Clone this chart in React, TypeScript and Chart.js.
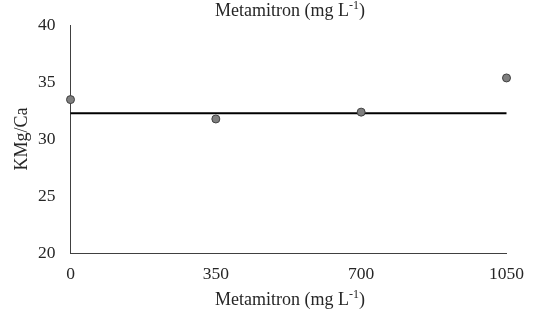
import React, { useEffect, useRef } from "react";
import { Chart, registerables } from "chart.js";

Chart.register(...registerables);

const doses = [0, 350, 700, 1050];
const kmgca = [33.5, 31.8, 32.4, 35.4];
const fitX = [0, 1050];
const fitY = [32.3, 32.3];
const xTicks = [0, 350, 700, 1050];
const yTicks = [20, 25, 30, 35, 40];
const titleMain = "Metamitron (mg L";
const titleSup = "-1";
const titleEnd = ")";
const yTitle = "KMg/Ca";

const FONT = "'Liberation Serif', 'Times New Roman', serif";
const TITLE_SIZE = 18;
const TICK_SIZE = 17.5;

function drawSupTitle(ctx: CanvasRenderingContext2D, cx: number, baseline: number) {
  ctx.save();
  ctx.fillStyle = "#262626";
  ctx.textBaseline = "alphabetic";
  ctx.textAlign = "left";
  ctx.font = `${TITLE_SIZE}px ${FONT}`;
  const w1 = ctx.measureText(titleMain).width;
  const w3 = ctx.measureText(titleEnd).width;
  ctx.font = `${Math.round(TITLE_SIZE * 0.66)}px ${FONT}`;
  const w2 = ctx.measureText(titleSup).width;
  const total = w1 + w2 + w3;
  let x = cx - total / 2;
  ctx.font = `${TITLE_SIZE}px ${FONT}`;
  ctx.fillText(titleMain, x, baseline);
  x += w1;
  ctx.font = `${Math.round(TITLE_SIZE * 0.66)}px ${FONT}`;
  ctx.fillText(titleSup, x, baseline - 7);
  x += w2;
  ctx.font = `${TITLE_SIZE}px ${FONT}`;
  ctx.fillText(titleEnd, x, baseline);
  ctx.restore();
}

const titlesPlugin = {
  id: "titlesPlugin",
  afterDraw(chart: any) {
    const ctx = chart.ctx as CanvasRenderingContext2D;
    const area = chart.chartArea;
    const cx = 290;
    drawSupTitle(ctx, cx, 16);
    drawSupTitle(ctx, cx, 305);
    ctx.save();
    ctx.fillStyle = "#262626";
    ctx.font = `${TITLE_SIZE}px ${FONT}`;
    ctx.textAlign = "center";
    ctx.textBaseline = "middle";
    ctx.translate(22, 139);
    ctx.rotate(-Math.PI / 2);
    ctx.fillText(yTitle, 0, 0);
    ctx.restore();
  },
};

export default function App() {
  const ref = useRef<HTMLCanvasElement | null>(null);
  useEffect(() => {
    document.body.style.margin = "0";
    if (!ref.current) return;
    const chart = new Chart(ref.current, {
      type: "scatter",
      data: {
        datasets: [
          {
            data: doses.map((d, i) => ({ x: d, y: kmgca[i] })),
            backgroundColor: "#7f7f7f",
            borderColor: "#404040",
            borderWidth: 1,
            pointRadius: 4,
            showLine: false,
            clip: false as any,
          },
          {
            data: fitX.map((d, i) => ({ x: d, y: fitY[i] })),
            borderColor: "#000000",
            borderWidth: 2,
            pointRadius: 0,
            showLine: true,
            clip: false as any,
          },
        ],
      },
      options: {
        animation: false,
        responsive: false,
        maintainAspectRatio: false,
        layout: { padding: { top: 24, right: 26, left: 0, bottom: 0 } },
        plugins: { legend: { display: false }, tooltip: { enabled: false }, title: { display: false } },
        scales: {
          x: {
            type: "linear",
            min: 0,
            max: 1050,
            afterBuildTicks: (s: any) => {
              s.ticks = xTicks.map((v) => ({ value: v }));
            },
            afterFit: (s: any) => {
              s.height = 55.5;
            },
            grid: { display: false, drawTicks: false },
            border: { display: true, color: "#404040", width: 1 },
            ticks: {
              color: "#262626",
              font: { family: FONT, size: TICK_SIZE },
              padding: 10,
              maxRotation: 0,
              callback: (v: any) => String(v),
            },
          },
          y: {
            type: "linear",
            min: 20,
            max: 40,
            afterBuildTicks: (s: any) => {
              s.ticks = yTicks.map((v) => ({ value: v }));
            },
            afterFit: (s: any) => {
              s.width = 70.5;
            },
            grid: { display: false, drawTicks: false },
            border: { display: true, color: "#404040", width: 1 },
            ticks: {
              color: "#262626",
              font: { family: FONT, size: TICK_SIZE },
              padding: 15,
              callback: (v: any) => String(v),
            },
          },
        },
      },
      plugins: [titlesPlugin],
    });
    return () => chart.destroy();
  }, []);
  return (
    <div style={{ position: "absolute", left: 0, top: 0, width: 534, height: 309 }}>
      <canvas ref={ref} width={534} height={309} style={{ width: 534, height: 309 }} />
    </div>
  );
}
